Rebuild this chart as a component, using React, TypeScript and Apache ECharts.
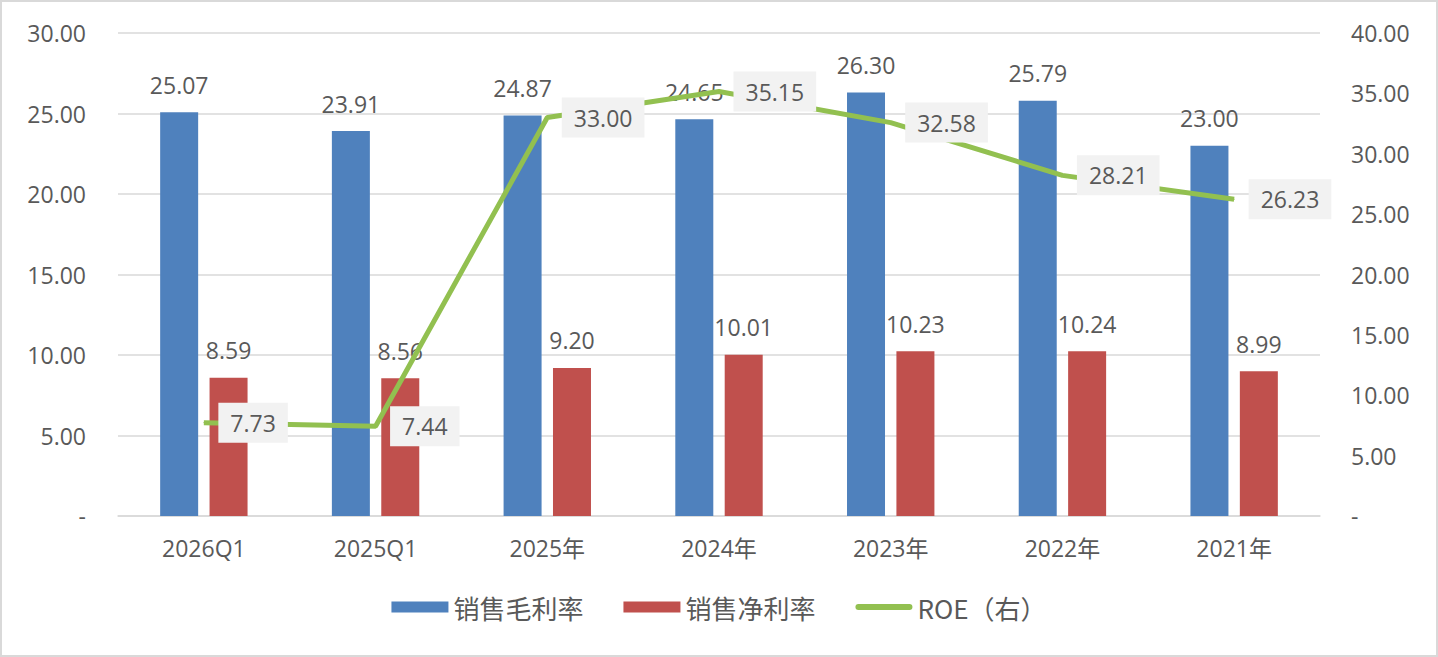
import React, { useEffect, useRef } from "react";
import * as echarts from "echarts";

const categories = ["2026Q1", "2025Q1", "2025年", "2024年", "2023年", "2022年", "2021年"];
const grossMargin = [25.07, 23.91, 24.87, 24.65, 26.3, 25.79, 23.0];
const netMargin = [8.59, 8.56, 9.2, 10.01, 10.23, 10.24, 8.99];
const roe = [7.73, 7.44, 33.0, 35.15, 32.58, 28.21, 26.23];

const FONT = "'Open Sans', 'Noto Sans CJK SC', sans-serif";
const CJK = "'Noto Sans CJK SC', 'Open Sans', sans-serif";
const TXT = "#595959";
const GREEN = "#92c050";

export default function App() {
  const ref = useRef<HTMLDivElement>(null);
  useEffect(() => {
    document.body.style.margin = "0";
    const chart = echarts.init(ref.current!, null, { renderer: "svg" });
    const fmt = (p: any) => Number(p.value).toFixed(2);
    chart.setOption({
      animation: false,
      textStyle: { fontFamily: FONT },
      grid: { left: 116, right: 116, top: 31, bottom: 139 },
      legend: {
        top: 587,
        left: "center",
        itemWidth: 57,
        itemHeight: 11,
        itemGap: 40,
        textStyle: { fontSize: 26, color: TXT, fontFamily: CJK },
        data: [
          { name: "销售毛利率", icon: "rect" },
          { name: "销售净利率", icon: "rect" },
          {
            name: "ROE（右）",
            icon: "path://M3,0 L54,0 A3,3 0 0 1 54,6 L3,6 A3,3 0 0 1 3,0 Z",
            itemStyle: { color: GREEN, borderWidth: 0 },
          },
        ],
      },
      xAxis: {
        type: "category",
        data: categories,
        axisLine: { lineStyle: { color: "#d9d9d9", width: 1.5 } },
        axisTick: { show: false },
        axisLabel: { fontSize: 23, color: TXT, margin: 20 },
      },
      yAxis: [
        {
          type: "value",
          min: 0,
          max: 30,
          interval: 5,
          axisLine: { show: false },
          axisTick: { show: false },
          splitLine: { lineStyle: { color: "#d9d9d9", width: 1.5 } },
          axisLabel: {
            fontSize: 23,
            color: TXT,
            margin: 32,
            formatter: (v: number) => (v === 0 ? "-" : v.toFixed(2)),
          },
        },
        {
          type: "value",
          min: 0,
          max: 40,
          interval: 5,
          axisLine: { show: false },
          axisTick: { show: false },
          splitLine: { show: false },
          axisLabel: {
            fontSize: 23,
            color: TXT,
            margin: 31,
            formatter: (v: number) => (v === 0 ? "-" : v.toFixed(2)),
          },
        },
      ],
      series: [
        {
          name: "销售毛利率",
          type: "bar",
          data: grossMargin,
          barWidth: 38,
          barGap: "30%",
          itemStyle: { color: "#4f81bd" },
          label: {
            show: true,
            position: "top",
            distance: 16,
            fontSize: 23,
            color: TXT,
            formatter: fmt,
          },
        },
        {
          name: "销售净利率",
          type: "bar",
          data: netMargin,
          barWidth: 38,
          itemStyle: { color: "#c0504d" },
          label: {
            show: true,
            position: "top",
            distance: 16,
            fontSize: 23,
            color: TXT,
            formatter: fmt,
          },
        },
        {
          name: "ROE（右）",
          type: "line",
          yAxisIndex: 1,
          data: roe,
          symbol: "circle",
          symbolSize: 1,
          showSymbol: true,
          lineStyle: { color: GREEN, width: 5 },
          itemStyle: { color: GREEN },
          label: {
            show: true,
            position: "right",
            distance: 14,
            fontSize: 23,
            lineHeight: 24,
            color: TXT,
            backgroundColor: "#f2f2f2",
            padding: [8, 12],
            formatter: fmt,
          },
        },
      ],
    });
    return () => chart.dispose();
  }, []);
  return (
    <div
      style={{
        position: "absolute",
        left: 0,
        top: 0,
        width: 1438,
        height: 657,
        boxSizing: "border-box",
        border: "2px solid #d9d9d9",
        background: "#fff",
      }}
    >
      <div ref={ref} style={{ width: "100%", height: "100%" }} />
    </div>
  );
}
